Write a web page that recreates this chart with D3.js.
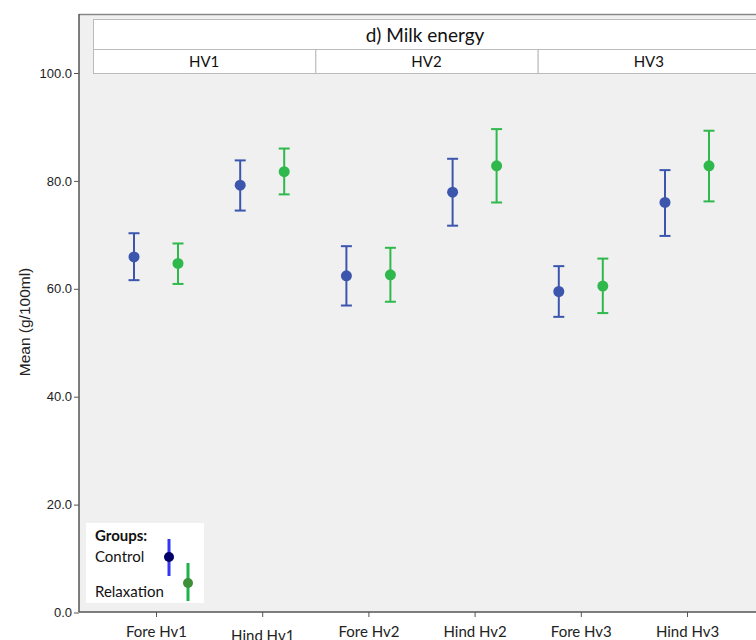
<!DOCTYPE html>
<html><head><meta charset="utf-8">
<script src="https://cdn.jsdelivr.net/npm/d3@7"></script>
<style>html,body{margin:0;padding:0;background:#fff;}svg{display:block;}</style>
</head><body>
<svg id="chart" width="756" height="640"></svg>
<script>
const title = "d) Milk energy";
const panels = ["HV1", "HV2", "HV3"];
const categories = ["Fore Hv1", "Hind Hv1", "Fore Hv2", "Hind Hv2", "Fore Hv3", "Hind Hv3"];
const groups = ["Control", "Relaxation"];
const controlMean = [65.9, 79.2, 62.4, 77.9, 59.5, 76.0];
const controlLow  = [61.6, 74.5, 56.9, 71.7, 54.8, 69.8];
const controlHigh = [70.3, 83.8, 67.9, 84.1, 64.2, 82.0];
const relaxMean = [64.7, 81.7, 62.6, 82.8, 60.5, 82.8];
const relaxLow  = [60.9, 77.5, 57.6, 76.0, 55.5, 76.2];
const relaxHigh = [68.4, 86.0, 67.6, 89.6, 65.6, 89.3];
const yTicks = [0, 20, 40, 60, 80, 100];
const yLabel = "Mean (g/100ml)";

const colors = {Control: "#3c56ae", Relaxation: "#2fb84c"};

const svg = d3.select("#chart");
const W = 756, H = 640;
const plot = {left: 79, top: 14, right: 760, bottom: 612};

// background
svg.append("rect").attr("x", plot.left).attr("y", plot.top)
  .attr("width", plot.right - plot.left).attr("height", plot.bottom - plot.top)
  .attr("fill", "#f0f0f0");
// top frame line
svg.append("line").attr("x1", plot.left).attr("x2", W).attr("y1", plot.top + 0.5).attr("y2", plot.top + 0.5)
  .attr("stroke", "#888").attr("stroke-width", 1.5);

const y = d3.scaleLinear().domain([0, 100]).range([612.5, 73]);
const x = d3.scalePoint().domain(categories).range([156, 687]);
const dx = d3.scalePoint().domain(groups).range([-22, 22]);

// y axis
const yAxis = svg.append("g").attr("transform", `translate(${plot.left},0)`)
  .call(d3.axisLeft(y).tickValues(yTicks).tickFormat(d3.format(".1f")).tickSize(5).tickPadding(2));
yAxis.select(".domain").attr("d", `M0,${plot.top}V${plot.bottom}`).attr("stroke", "#555").attr("stroke-width", 1.5);
yAxis.selectAll(".tick line").attr("stroke", "#555");
yAxis.selectAll(".tick text").attr("font-family", "Liberation Sans, Arial, sans-serif").attr("font-size", 13).attr("fill", "#222");

// x axis
const xAxis = svg.append("g").attr("transform", `translate(0,${plot.bottom})`)
  .call(d3.axisBottom(x).tickSize(5));
xAxis.select(".domain").attr("d", `M${plot.left},0H${W}`).attr("stroke", "#555").attr("stroke-width", 1.5);
xAxis.selectAll(".tick line").attr("stroke", "#555");
xAxis.selectAll(".tick text").attr("font-family", "Lato, 'Open Sans', sans-serif").attr("font-size", 15).attr("fill", "#222")
  .attr("y", (d, i) => i === 1 ? 18 : 14).attr("dy", "0.71em");

// y label
svg.append("text").attr("transform", `translate(30,322) rotate(-90)`)
  .attr("text-anchor", "middle").attr("font-family", "Liberation Sans, Arial, sans-serif")
  .attr("font-size", 15.5).attr("fill", "#222").text(yLabel);

// header
const hx = d3.scaleBand().domain(panels).range([93, 760]);
svg.append("rect").attr("x", 93.5).attr("y", 19.5).attr("width", 670).attr("height", 30)
  .attr("fill", "#fff").attr("stroke", "#bbb");
svg.append("text").attr("x", 425).attr("y", 42).attr("text-anchor", "middle")
  .attr("font-family", "Lato, 'Open Sans', sans-serif").attr("font-size", 19).attr("fill", "#111").text(title);
const hp = svg.append("g").selectAll("g").data(panels).join("g");
hp.append("rect").attr("x", d => hx(d) + 0.5).attr("y", 49.5).attr("width", hx.bandwidth()).attr("height", 24)
  .attr("fill", "#fff").attr("stroke", "#bbb");
hp.append("text").attr("x", d => hx(d) + hx.bandwidth() / 2).attr("y", 67).attr("text-anchor", "middle")
  .attr("font-family", "Lato, 'Open Sans', sans-serif").attr("font-size", 15).attr("fill", "#111").text(d => d);

// error bars
const series = [
  {g: "Control", mean: controlMean, lo: controlLow, hi: controlHigh},
  {g: "Relaxation", mean: relaxMean, lo: relaxLow, hi: relaxHigh}
];
series.forEach(s => {
  const data = categories.map((c, i) => ({c, m: s.mean[i], lo: s.lo[i], hi: s.hi[i]}));
  const g = svg.append("g").attr("stroke", colors[s.g]).attr("fill", colors[s.g]);
  const cx = d => x(d.c) + dx(s.g);
  g.selectAll(".v").data(data).join("line")
    .attr("x1", cx).attr("x2", cx).attr("y1", d => y(d.lo)).attr("y2", d => y(d.hi)).attr("stroke-width", 2);
  g.selectAll(".t").data(data).join("line")
    .attr("x1", d => cx(d) - 5.5).attr("x2", d => cx(d) + 5.5).attr("y1", d => y(d.hi)).attr("y2", d => y(d.hi)).attr("stroke-width", 2);
  g.selectAll(".b").data(data).join("line")
    .attr("x1", d => cx(d) - 5.5).attr("x2", d => cx(d) + 5.5).attr("y1", d => y(d.lo)).attr("y2", d => y(d.lo)).attr("stroke-width", 2);
  g.selectAll("circle").data(data).join("circle")
    .attr("cx", cx).attr("cy", d => y(d.m)).attr("r", 5.5).attr("stroke", "none");
});

// legend
const lg = svg.append("g");
lg.append("rect").attr("x", 86).attr("y", 523).attr("width", 118).attr("height", 80).attr("fill", "#fff");
lg.append("text").attr("x", 95).attr("y", 541).attr("font-family", "Lato, 'Open Sans', sans-serif")
  .attr("font-weight", "bold").attr("font-size", 15).attr("fill", "#111").text("Groups:");
const legendItems = [
  {g: "Control", ty: 562, lx: 169, ly1: 539, ly2: 576, cy: 557, line: "#3535f5", dot: "#000066"},
  {g: "Relaxation", ty: 597, lx: 188, ly1: 563, ly2: 601, cy: 583, line: "#1db346", dot: "#3c9038"}
];
legendItems.forEach(it => {
  lg.append("text").attr("x", 95).attr("y", it.ty).attr("font-family", "Lato, 'Open Sans', sans-serif")
    .attr("font-size", 15).attr("fill", "#111").text(it.g);
  lg.append("line").attr("x1", it.lx).attr("x2", it.lx).attr("y1", it.ly1).attr("y2", it.ly2)
    .attr("stroke", it.line).attr("stroke-width", 3);
  lg.append("circle").attr("cx", it.lx).attr("cy", it.cy).attr("r", 5).attr("fill", it.dot);
});
</script>
</body></html>
